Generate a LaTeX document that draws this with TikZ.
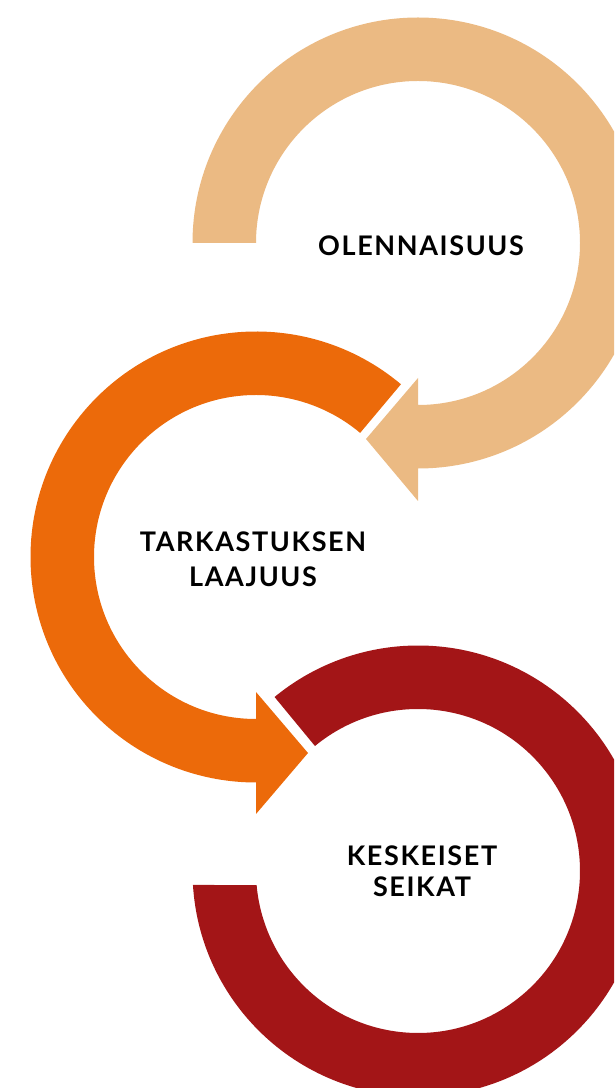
\documentclass[tikz,border=0pt]{standalone}
\usepackage{fontspec}
\newfontfamily\labfont{Lato}[LetterSpace=6]
\definecolor{tanc}{RGB}{235,186,131}
\definecolor{orangec}{RGB}{236,106,10}
\definecolor{redc}{RGB}{163,21,23}
\begin{document}
\begin{tikzpicture}[x=1pt,y=1pt,
  lbl/.style={text=black,inner sep=0pt,anchor=base,align=center}]
\useasboundingbox (0,0) rectangle (614,1088);
\begin{scope}
\clip (0,0) rectangle (614,1088);
\coordinate (ct) at (418,845);
\coordinate (co) at (256,531);
\coordinate (cr) at (418,217);
% tan arc
\fill[tanc] ([shift={(180:225.5)}]ct) arc[start angle=180,end angle=-90,radius=225.5]
  -- (418,587) -- (366,649) -- (418,710) -- (418,683)
  arc[start angle=-90,end angle=180,radius=162] -- cycle;
% orange arc
\fill[orangec] ([shift={(50:225.5)}]co) arc[start angle=50,end angle=270,radius=225.5]
  -- (256,274) -- (308,335) -- (256,396) -- (256,369)
  arc[start angle=270,end angle=50,radius=162] -- cycle;
% red arc
\fill[redc] ([shift={(183.56:225.5)}]cr) arc[start angle=183.56,end angle=489.5,radius=225.5]
  -- ([shift={(489.5:162)}]cr)
  arc[start angle=489.5,end angle=184.96,radius=162] -- cycle;
\end{scope}
\node[lbl,font=\labfont\bfseries\fontsize{27}{35}\selectfont] (t1) at (421,832) {OLENNAISUUS};
\node[lbl,font=\labfont\bfseries\fontsize{27}{35}\selectfont] (t2) at (253,501) {TARKASTUKSEN\\LAAJUUS};
\node[lbl,font=\labfont\bfseries\fontsize{27}{31}\selectfont] (t3) at (422,191) {KESKEISET\\SEIKAT};
\end{tikzpicture}
\end{document}
